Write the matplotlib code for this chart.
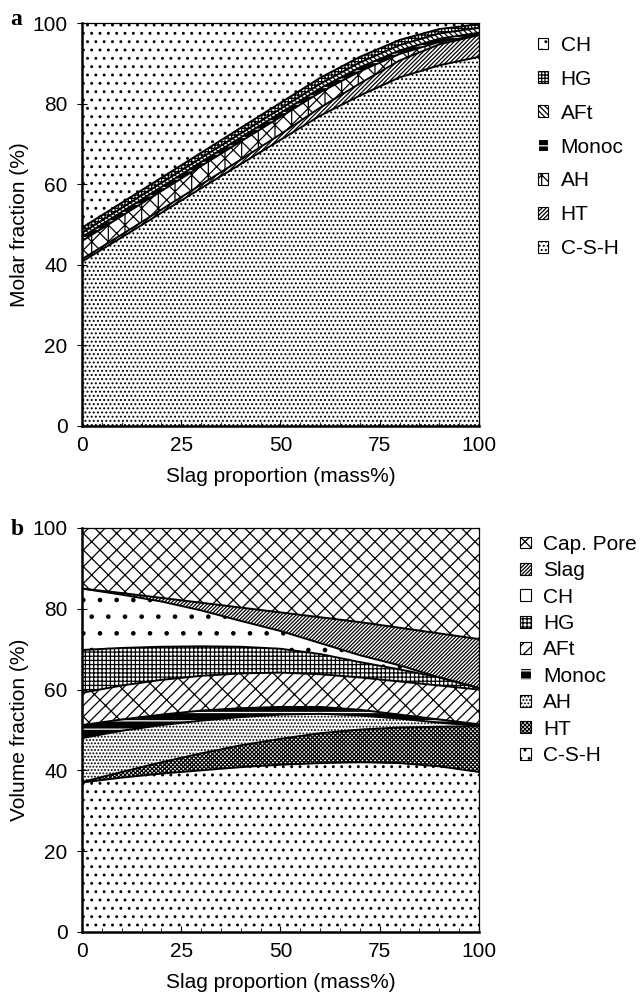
import numpy as np
import matplotlib
matplotlib.use('Agg')
import matplotlib.pyplot as plt
from matplotlib.patches import Patch
from matplotlib.ticker import MultipleLocator

plt.rcParams['font.family'] = ['Liberation Sans', 'DejaVu Sans']
plt.rcParams['font.size'] = 15
plt.rcParams['hatch.linewidth'] = 0.9

slag = [0, 10, 20, 30, 40, 50, 60, 70, 80, 90, 100]

# (a) molar fraction (%) of each phase, bottom to top
a_csh = [40.8, 46.8, 52.9, 59.0, 65.0, 71.0, 77.0, 82.0, 86.5, 89.5, 91.6]
a_ht = [0.6, 0.7, 0.8, 0.9, 1.1, 1.4, 2.0, 3.0, 4.2, 5.2, 5.4]
a_ah = [4.5, 4.6, 4.6, 4.6, 4.5, 4.3, 3.8, 3.0, 1.6, 0.6, 0.0]
a_monoc = [1.0, 1.0, 1.0, 1.0, 1.0, 1.0, 1.0, 1.0, 0.9, 0.8, 0.6]
a_aft = [1.0, 1.0, 1.0, 1.0, 1.0, 1.0, 1.1, 1.2, 1.3, 1.3, 1.2]
a_hg = [1.3, 1.3, 1.3, 1.3, 1.4, 1.5, 1.5, 1.4, 1.3, 1.1, 0.9]
a_ch = [50.8, 44.6, 38.4, 32.2, 26.0, 19.8, 13.6, 8.4, 4.2, 1.5, 0.3]

# (b) volume fraction (%) of each phase, bottom to top
b_csh = [37.0, 38.2, 39.2, 40.0, 40.8, 41.4, 41.8, 42.0, 41.8, 41.0, 39.6]
b_ht = [0.1, 1.4, 2.8, 4.2, 5.4, 6.4, 7.4, 8.1, 8.8, 9.8, 11.3]
b_ah = [10.9, 10.2, 9.2, 8.1, 7.0, 6.0, 4.8, 3.5, 2.2, 1.0, 0.1]
b_monoc = [3.2, 2.8, 2.6, 2.5, 2.2, 1.9, 1.7, 1.4, 1.0, 0.8, 0.4]
b_aft = [8.0, 8.4, 8.6, 8.6, 8.6, 8.5, 8.1, 8.0, 8.2, 8.4, 8.6]
b_hg = [10.6, 9.3, 8.2, 7.3, 6.6, 5.9, 5.0, 3.8, 3.0, 2.0, 0.4]
b_ch = [15.2, 13.2, 11.2, 8.9, 6.4, 4.4, 2.7, 1.7, 1.0, 0.0, 0.0]
b_slag = [0.0, 0.4, 0.9, 1.9, 3.3, 4.6, 6.4, 8.2, 9.3, 10.9, 12.1]
b_pore = [15.0, 16.1, 17.3, 18.5, 19.7, 20.9, 22.1, 23.3, 24.7, 26.1, 27.5]

# (label, values, facecolor, hatch colour, hatch)
layers_a = [
    ('C-S-H', a_csh, 'white', 'k', '....'),
    ('HT', a_ht, 'white', 'k', '/' * 8),
    ('AH', a_ah, 'white', 'k', 'xx|'),
    ('Monoc', a_monoc, 'black', 'white', '--'),
    ('AFt', a_aft, 'white', 'k', '\\' * 6),
    ('HG', a_hg, 'white', 'k', '+++++'),
    ('CH', a_ch, 'white', 'k', '..'),
]
layers_b = [
    ('C-S-H', b_csh, 'white', 'k', '..'),
    ('HT', b_ht, 'white', 'k', 'x' * 8),
    ('AH', b_ah, 'white', 'k', '.....'),
    ('Monoc', b_monoc, 'black', 'white', '--'),
    ('AFt', b_aft, 'white', 'k', '///\\'),
    ('HG', b_hg, 'white', 'k', '++++'),
    ('CH', b_ch, 'white', 'k', '.'),
    ('Slag', b_slag, 'white', 'k', '/' * 9),
    ('Cap. Pore', b_pore, 'white', 'k', 'xx'),
]


def draw_panel(ax, layers, ylabel):
    base = np.zeros(len(slag))
    handles = []
    for label, vals, fc, hc, hatch in layers:
        top = base + np.array(vals)
        ax.fill_between(slag, base, top, facecolor=fc, edgecolor=hc,
                        hatch=hatch, linewidth=0)
        handles.append(Patch(facecolor=fc, edgecolor=hc, hatch=hatch,
                             linewidth=0.8, label=label))
        base = top
    base = np.zeros(len(slag))
    for label, vals, fc, hc, hatch in layers[:-1]:
        base = base + np.array(vals)
        ax.plot(slag, base, color='k', lw=1.4)

    ax.set_xlim(0, 100)
    ax.set_ylim(0, 100)
    ax.set_xticks([0, 25, 50, 75, 100])
    ax.set_yticks([0, 20, 40, 60, 80, 100])
    ax.xaxis.set_minor_locator(MultipleLocator(5))
    ax.tick_params(axis='x', which='major', direction='in', length=4, pad=7)
    ax.tick_params(axis='x', which='minor', direction='in', length=3)
    ax.tick_params(axis='y', direction='inout', length=7, pad=7)
    for s in ['left', 'bottom']:
        ax.spines[s].set_linewidth(1.8)
    for s in ['top', 'right']:
        ax.spines[s].set_linewidth(0.9)
    ax.set_xlabel('Slag proportion (mass%)', labelpad=9)
    ax.set_ylabel(ylabel, labelpad=2)
    return handles[::-1]


fig = plt.figure(figsize=(6.44, 9.96), dpi=100)
ax_a = fig.add_axes([0.1273, 0.5723, 0.6165, 0.4046])
ax_b = fig.add_axes([0.1273, 0.0643, 0.6165, 0.4056])

h_a = draw_panel(ax_a, layers_a, 'Molar fraction (%)')
h_b = draw_panel(ax_b, layers_b, 'Volume fraction (%)')

fig.text(0.016, 0.980, 'a', fontsize=17, fontweight='bold',
         family='Liberation Serif', va='center')
fig.text(0.016, 0.468, 'b', fontsize=17, fontweight='bold',
         family='Liberation Serif', va='center')

fig.legend(handles=h_a, loc='upper left', bbox_to_anchor=(0.835, 0.964),
           frameon=False, handlelength=0.5, handleheight=0.5,
           handletextpad=0.6, labelspacing=0.715, borderpad=0, borderaxespad=0)
fig.legend(handles=h_b, loc='upper left', bbox_to_anchor=(0.808, 0.463),
           frameon=False, handlelength=0.5, handleheight=0.5,
           handletextpad=0.6, labelspacing=0.355, borderpad=0, borderaxespad=0)

fig.savefig('out.png', dpi=100)
